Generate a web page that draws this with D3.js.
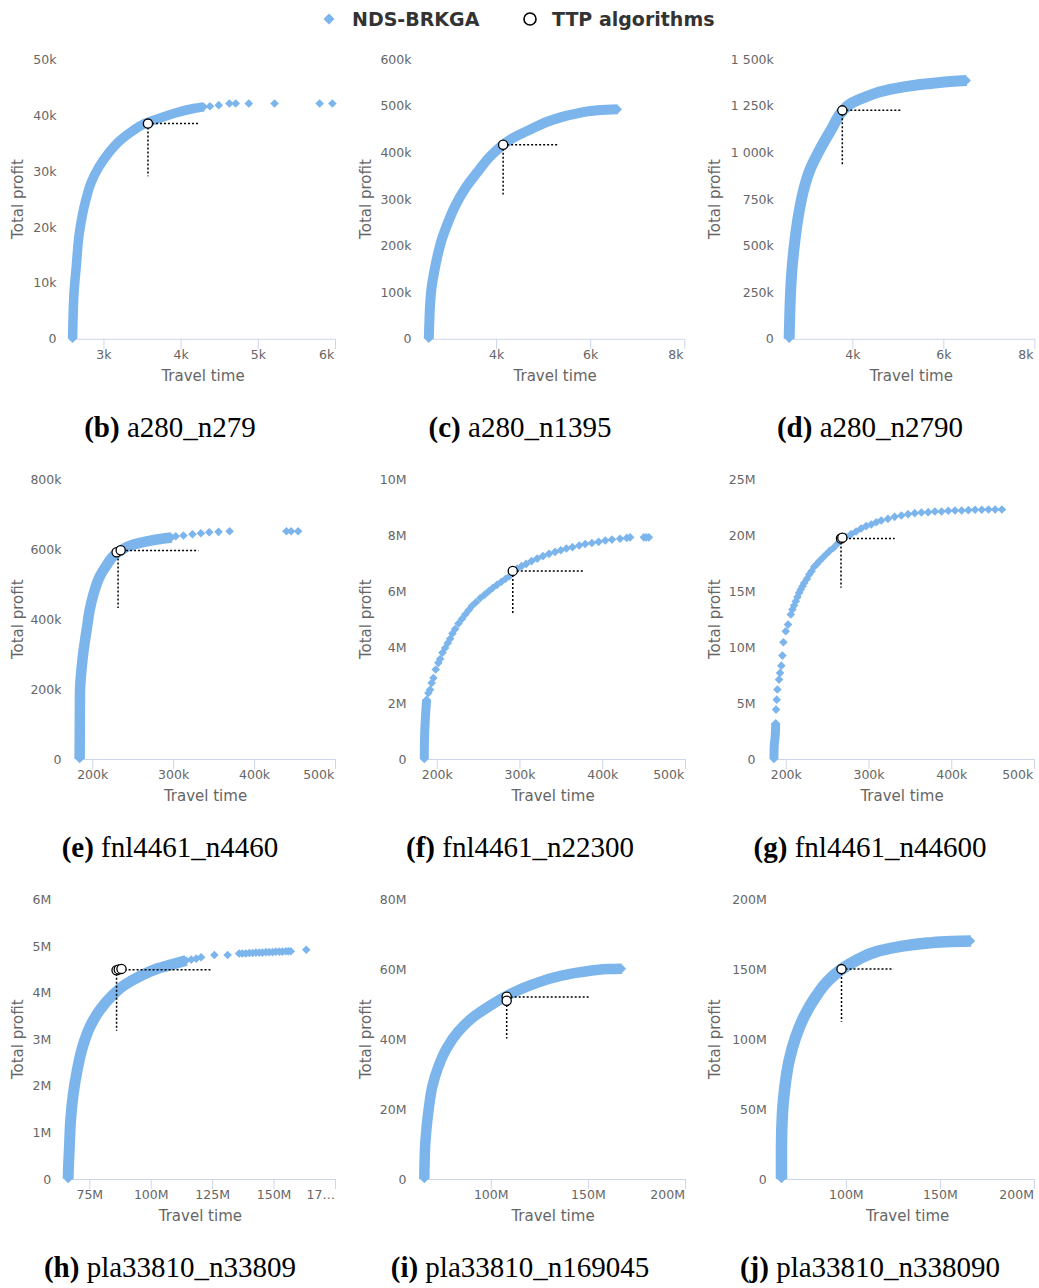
<!DOCTYPE html>
<html><head><meta charset="utf-8">
<script src="https://cdn.jsdelivr.net/npm/d3@7"></script>
<style>body{margin:0;background:#fff}svg{display:block}</style>
</head><body>
<svg id="chart" width="1039" height="1288"></svg>
<script>
// ---------------- DATA ----------------
const seriesNames = ["NDS-BRKGA", "TTP algorithms"];
const panelLetters = ["b","c","d","e","f","g","h","i","j"];
const captionNames = ["a280_n279","a280_n1395","a280_n2790","fnl4461_n4460","fnl4461_n22300","fnl4461_n44600","pla33810_n33809","pla33810_n169045","pla33810_n338090"];

// (b) a280_n279
const xMin_b = 2580;
const xTicks_b = [3000,4000,5000,6000];
const xLabels_b = ["3k","4k","5k","6k"];
const yTicks_b = [0,10000,20000,30000,40000,50000];
const yLabels_b = ["0","10k","20k","30k","40k","50k"];
const band_b = [[2600,0],[2607,4000],[2619,8200],[2648,12900],[2688,18900],[2771,24800],[2836,27800],[2944,30800],[3065,33200],[3217,35500],[3390,37300],[3519,38400],[3736,39500],[3909,40300],[4169,41200],[4300,41500]];
const sparse_b = [[4380,41600],[4494,41800],[4632,42100],[4714,42100],[4883,42100],[5217,42100],[5801,42100],[5966,42100]];
const ttp_b = [[3577,38500]];
const guide_b = [3577,38500,4234,29100];

// (c) a280_n1395
const xMin_c = 2511;
const xTicks_c = [4000,6000,8000];
const xLabels_c = ["4k","6k","8k"];
const yTicks_c = [0,100000,200000,300000,400000,500000,600000];
const yLabels_c = ["0","100k","200k","300k","400k","500k","600k"];
const band_c = [[2570,0],[2580,30000],[2596,70000],[2630,110000],[2682,141800],[2760,180000],[2846,213000],[2980,250000],[3130,285000],[3329,320700],[3594,356600],[3878,392000],[4150,416700],[4306,428000],[4733,449600],[5231,471000],[5731,484000],[6228,491000],[6585,492600]];
const sparse_c = [];
const ttp_c = [[4150,416700]];
const guide_c = [4150,416700,5316,310000];

// (d) a280_n2790
const xMin_d = 2593;
const xTicks_d = [4000,6000,8000];
const xLabels_d = ["4k","6k","8k"];
const yTicks_d = [0,250000,500000,750000,1000000,1250000,1500000];
const yLabels_d = ["0","250k","500k","750k","1 000k","1 250k","1 500k"];
const band_d = [[2612,0],[2620,80000],[2631,175000],[2668,354000],[2741,533000],[2829,680000],[2933,802000],[3072,909000],[3288,1017000],[3540,1124000],[3790,1224000],[3960,1262000],[4200,1289000],[4829,1339000],[5415,1362000],[5927,1376000],[6514,1386000]];
const sparse_d = [];
const ttp_d = [[3780,1226000]];
const guide_d = [3780,1226000,5063,936000];

// (e) fnl4461_n4460
const xMin_e = 180000;
const xTicks_e = [200000,300000,400000,500000];
const xLabels_e = ["200k","300k","400k","500k"];
const yTicks_e = [0,200000,400000,600000,800000];
const yLabels_e = ["0","200k","400k","600k","800k"];
const band_e = [[184500,0],[184700,100000],[184900,189000],[188000,284000],[193800,380000],[197000,427600],[202000,475000],[209500,523000],[217000,551600],[232000,592000],[250800,613800],[267400,623000],[288000,631000],[298000,634000]];
const sparse_e = [[303300,637600],[312800,639600],[323900,643300],[334300,646200],[344600,649000],[356100,650100],[369800,651900],[440000,651900],[445800,651900],[454500,651900]];
const ttp_e = [[230200,591700],[235200,597400]];
const guide_e = [232000,597000,331300,432500];

// (f) fnl4461_n22300
const xMin_f = 181000;
const xTicks_f = [200000,300000,400000,500000];
const xLabels_f = ["200k","300k","400k","500k"];
const yTicks_f = [0,2000000,4000000,6000000,8000000,10000000];
const yLabels_f = ["0","2M","4M","6M","8M","10M"];
const band_f = [[185000,0],[185100,500000],[185800,1170000],[187800,2120000]];
const sparse_f = [[189900,2360000],[191900,2480000],[193900,2720000],[196000,2900000],[198800,3200000],[202000,3440000],[204100,3580000],[206900,3800000],[210100,3970000],[213400,4150000],[216200,4300000],[219000,4490000],[222300,4650000],[226300,4850000],[230400,5010000],[234400,5170000],[238500,5320000],[242500,5470000],[247400,5610000],[252700,5760000],[257900,5880000],[262800,6000000],[267600,6120000],[272900,6230000],[278200,6340000],[283000,6440000],[287900,6540000],[292000,6650000],[297200,6810000],[302500,6900000],[308100,6980000],[314600,7080000],[321500,7170000],[328400,7260000],[335700,7340000],[343000,7410000],[349900,7470000],[356700,7530000],[364000,7580000],[372100,7640000],[379400,7690000],[387500,7730000],[395600,7770000],[403700,7820000],[411800,7850000],[421500,7880000],[429600,7910000],[433700,7930000],[450300,7930000],[453100,7930000],[456400,7930000]];
const ttp_f = [[291900,6730000]];
const guide_f = [291900,6730000,377000,5170000];

// (g) fnl4461_n44600
const xMin_g = 181000;
const xTicks_g = [200000,300000,400000,500000];
const xLabels_g = ["200k","300k","400k","500k"];
const yTicks_g = [0,5000000,10000000,15000000,20000000,25000000];
const yLabels_g = ["0","5M","10M","15M","20M","25M"];
const band_g = [[185800,0],[186000,1000000],[187500,2300000],[187900,3200000]];
const sparse_g = [[188300,4420000],[189100,5310000],[189900,6210000],[191900,7100000],[193100,7700000],[194700,8350000],[196000,9250000],[197200,10440000],[200000,11430000],[202800,12020000],[206100,12920000],[208100,13370000],[210100,13730000],[212200,14110000],[214200,14500000],[216200,14860000],[218200,15160000],[220300,15460000],[222300,15750000],[225500,16110000],[228400,16500000],[231200,16800000],[234400,17190000],[237700,17450000],[240500,17690000],[244600,17990000],[248600,18290000],[252700,18590000],[257900,18890000],[262800,19270000],[272900,19870000],[279000,20110000],[285000,20350000],[291100,20620000],[297200,20830000],[303300,20980000],[309400,21180000],[315400,21330000],[323500,21480000],[331600,21660000],[339700,21780000],[347800,21900000],[355900,21990000],[364000,22050000],[372100,22080000],[380200,22140000],[388300,22140000],[396400,22200000],[404500,22230000],[412600,22230000],[420700,22260000],[428800,22290000],[436900,22290000],[445000,22320000],[453100,22320000],[461200,22320000]];
const ttp_g = [[266800,19720000],[268400,19800000]];
const guide_g = [266800,19720000,331600,15310000];

// (h) pla33810_n33809
const xMin_h = 65400000;
const xTicks_h = [75000000,100000000,125000000,150000000,175000000];
const xLabels_h = ["75M","100M","125M","150M","17…"];
const yTicks_h = [0,1000000,2000000,3000000,4000000,5000000,6000000];
const yLabels_h = ["0","1M","2M","3M","4M","5M","6M"];
const band_h = [[66400000,0],[66500000,200000],[66900000,680000],[67400000,1260000],[68500000,1830000],[70100000,2340000],[72300000,2840000],[75300000,3270000],[79300000,3630000],[84000000,3920000],[89500000,4170000],[95500000,4350000],[102300000,4510000],[109000000,4610000],[114400000,4690000]];
const sparse_h = [[116500000,4710000],[118500000,4730000],[120500000,4760000],[125900000,4810000],[131300000,4810000],[136000000,4840000],[137300000,4840000],[138700000,4840000],[140100000,4850000],[141500000,4850000],[142800000,4860000],[144200000,4860000],[145500000,4860000],[146900000,4870000],[148200000,4870000],[149600000,4870000],[150900000,4880000],[152300000,4880000],[153600000,4880000],[155000000,4890000],[156000000,4890000],[157000000,4890000],[163300000,4920000]];
const ttp_h = [[86100000,4480000],[87000000,4500000],[88100000,4510000]];
const guide_h = [86100000,4490000,124300000,3180000];

// (i) pla33810_n169045
const xMin_i = 64100000;
const xTicks_i = [100000000,150000000,200000000];
const xLabels_i = ["100M","150M","200M"];
const yTicks_i = [0,20000000,40000000,60000000,80000000];
const yLabels_i = ["0","20M","40M","60M","80M"];
const band_i = [[65800000,0],[66200000,9100000],[67000000,14900000],[68200000,20600000],[69900000,26400000],[73000000,32100000],[77300000,37400000],[83300000,42200000],[90200000,46000000],[98800000,49300000],[109100000,52700000],[121100000,55600000],[134900000,58000000],[148600000,59400000],[160700000,60100000],[167500000,60200000]];
const sparse_i = [];
const ttp_i = [[108200000,52200000],[108200000,51000000]];
const guide_i = [108200000,52100000,151200000,40200000];

// (j) pla33810_n338090
const xMin_j = 65700000;
const xTicks_j = [100000000,150000000,200000000];
const xLabels_j = ["100M","150M","200M"];
const yTicks_j = [0,50000000,100000000,150000000,200000000];
const yLabels_j = ["0","50M","100M","150M","200M"];
const band_j = [[65800000,0],[65800000,22800000],[66300000,46700000],[67600000,65900000],[69900000,85000000],[73400000,101800000],[77800000,116200000],[84000000,130500000],[90200000,141300000],[97300000,149700000],[106200000,156900000],[116800000,162900000],[129300000,166500000],[143400000,168800000],[155900000,170000000],[166500000,170300000]];
const sparse_j = [];
const ttp_j = [[97700000,150200000]];
const guide_j = [97700000,150200000,125400000,112600000];

// ---------------- LAYOUT / STYLE ----------------
const layout = [
  {left:71, right:335, row:0, col:0, bandW:9.5},
  {left:426, right:684.3, row:0, col:1, bandW:10},
  {left:788.3, right:1034.3, row:0, col:2, bandW:11},
  {left:76, right:335, row:1, col:0, bandW:10.5},
  {left:421, right:685, row:1, col:1, bandW:9},
  {left:770, right:1034, row:1, col:2, bandW:9},
  {left:65.7, right:335, row:2, col:0, bandW:11},
  {left:421, right:685, row:2, col:1, bandW:10.5},
  {left:781.3, right:1034, row:2, col:2, bandW:11.5}
];
const colX = [0, 348, 697];
const rowTop = [59.3, 479.5, 899.5];
const plotH = 279.5;
const captionX = [170, 520, 870];
const BLUE = "#7cb5ec";
const SANS = "'DejaVu Sans', Verdana, sans-serif";
const SERIF = "'Liberation Serif', 'Times New Roman', serif";

const panels = [
  {xMin:xMin_b,xTicks:xTicks_b,xLabels:xLabels_b,yTicks:yTicks_b,yLabels:yLabels_b,band:band_b,sparse:sparse_b,ttp:ttp_b,guide:guide_b},
  {xMin:xMin_c,xTicks:xTicks_c,xLabels:xLabels_c,yTicks:yTicks_c,yLabels:yLabels_c,band:band_c,sparse:sparse_c,ttp:ttp_c,guide:guide_c},
  {xMin:xMin_d,xTicks:xTicks_d,xLabels:xLabels_d,yTicks:yTicks_d,yLabels:yLabels_d,band:band_d,sparse:sparse_d,ttp:ttp_d,guide:guide_d},
  {xMin:xMin_e,xTicks:xTicks_e,xLabels:xLabels_e,yTicks:yTicks_e,yLabels:yLabels_e,band:band_e,sparse:sparse_e,ttp:ttp_e,guide:guide_e},
  {xMin:xMin_f,xTicks:xTicks_f,xLabels:xLabels_f,yTicks:yTicks_f,yLabels:yLabels_f,band:band_f,sparse:sparse_f,ttp:ttp_f,guide:guide_f},
  {xMin:xMin_g,xTicks:xTicks_g,xLabels:xLabels_g,yTicks:yTicks_g,yLabels:yLabels_g,band:band_g,sparse:sparse_g,ttp:ttp_g,guide:guide_g},
  {xMin:xMin_h,xTicks:xTicks_h,xLabels:xLabels_h,yTicks:yTicks_h,yLabels:yLabels_h,band:band_h,sparse:sparse_h,ttp:ttp_h,guide:guide_h},
  {xMin:xMin_i,xTicks:xTicks_i,xLabels:xLabels_i,yTicks:yTicks_i,yLabels:yLabels_i,band:band_i,sparse:sparse_i,ttp:ttp_i,guide:guide_i},
  {xMin:xMin_j,xTicks:xTicks_j,xLabels:xLabels_j,yTicks:yTicks_j,yLabels:yLabels_j,band:band_j,sparse:sparse_j,ttp:ttp_j,guide:guide_j}
];

const svg = d3.select("#chart");
const diamond = d3.symbol().type(d3.symbolSquare).size(2 * 4.3 * 4.3);

// ---------------- LEGEND ----------------
const leg = svg.append("g").attr("font-family", SANS).attr("font-weight", "bold").attr("font-size", 19).attr("fill", "#333");
leg.append("path").attr("d", d3.symbol().type(d3.symbolSquare).size(2*5.5*5.5)()).attr("transform", "translate(329,19) rotate(45)").attr("fill", BLUE);
leg.append("text").attr("x", 352).attr("y", 26).text(seriesNames[0]);
leg.append("circle").attr("cx", 530).attr("cy", 19).attr("r", 6).attr("fill", "#fff").attr("stroke", "#000").attr("stroke-width", 1.6);
leg.append("text").attr("x", 552).attr("y", 26).text(seriesNames[1]);

// ---------------- PANELS ----------------
panels.forEach((p, i) => {
  const L = layout[i];
  const top = rowTop[L.row], bottom = top + plotH;
  const x = d3.scaleLinear().domain([p.xMin, p.xTicks[p.xTicks.length - 1]]).range([L.left, L.right]);
  const y = d3.scaleLinear().domain([0, p.yTicks[p.yTicks.length - 1]]).range([bottom, top]);
  const g = svg.append("g");

  // x axis
  const xa = g.append("g").attr("transform", `translate(0,${bottom})`)
    .call(d3.axisBottom(x).tickValues(p.xTicks).tickFormat((d, k) => p.xLabels[k]).tickSize(10).tickSizeOuter(0));
  xa.select(".domain").attr("stroke", "#ccd6eb");
  xa.selectAll(".tick line").attr("stroke", "#ccd6eb");
  xa.selectAll(".tick text").attr("fill", "#666").attr("font-family", SANS).attr("font-size", 12.5).attr("y", 11);
  xa.selectAll(".tick text").each(function () {
    const bb = this.getBBox();
    const tx = +this.parentNode.getAttribute("transform").match(/translate\(([-\d.]+)/)[1];
    const rightEdge = tx + bb.x + bb.width;
    if (rightEdge > L.right + 0.5) d3.select(this).attr("x", L.right - rightEdge);
  });

  // y axis
  const ya = g.append("g").attr("transform", `translate(${L.left},0)`)
    .call(d3.axisLeft(y).tickValues(p.yTicks).tickFormat((d, k) => p.yLabels[k]).tickSize(0));
  ya.select(".domain").remove();
  ya.selectAll(".tick text").attr("fill", "#666").attr("font-family", SANS).attr("font-size", 12.5).attr("x", -14.5);

  // titles
  g.append("text").attr("x", (L.left + L.right) / 2).attr("y", bottom + 42).attr("text-anchor", "middle")
    .attr("fill", "#666").attr("font-family", SANS).attr("font-size", 15).text("Travel time");
  g.append("text").attr("transform", `translate(${colX[L.col] + 23},${(top + bottom) / 2}) rotate(-90)`).attr("text-anchor", "middle")
    .attr("fill", "#666").attr("font-family", SANS).attr("font-size", 15).text("Total profit");

  // band of dense NDS-BRKGA points
  const line = d3.line().x(d => x(d[0])).y(d => y(d[1])).curve(d3.curveMonotoneY);
  g.append("path").attr("d", line(p.band)).attr("fill", "none").attr("stroke", BLUE)
    .attr("stroke-width", L.bandW).attr("stroke-linejoin", "round");
  g.selectAll(null).data(p.band.concat(p.sparse)).enter().append("path")
    .attr("d", diamond).attr("fill", BLUE)
    .attr("transform", d => `translate(${x(d[0])},${y(d[1])}) rotate(45)`);

  // guide lines (dotted)
  const [gx, gy, gxe, gye] = p.guide;
  g.append("line").attr("x1", x(gx)).attr("y1", y(gy)).attr("x2", x(gxe)).attr("y2", y(gy))
    .attr("stroke", "#000").attr("stroke-width", 1.5).attr("stroke-dasharray", "2,2");
  g.append("line").attr("x1", x(gx)).attr("y1", y(gy)).attr("x2", x(gx)).attr("y2", y(gye))
    .attr("stroke", "#000").attr("stroke-width", 1.5).attr("stroke-dasharray", "2,2");

  // TTP points
  g.selectAll(null).data(p.ttp).enter().append("circle")
    .attr("cx", d => x(d[0])).attr("cy", d => y(d[1])).attr("r", 4.6)
    .attr("fill", "#fff").attr("stroke", "#000").attr("stroke-width", 1.3);

  // caption
  const cap = g.append("text").attr("x", captionX[L.col]).attr("y", bottom + 98).attr("text-anchor", "middle")
    .attr("font-family", SERIF).attr("font-size", 29).attr("fill", "#000");
  cap.append("tspan").attr("font-weight", "bold").text("(" + panelLetters[i] + ")");
  cap.append("tspan").text(" " + captionNames[i]);
});
</script>
</body></html>
